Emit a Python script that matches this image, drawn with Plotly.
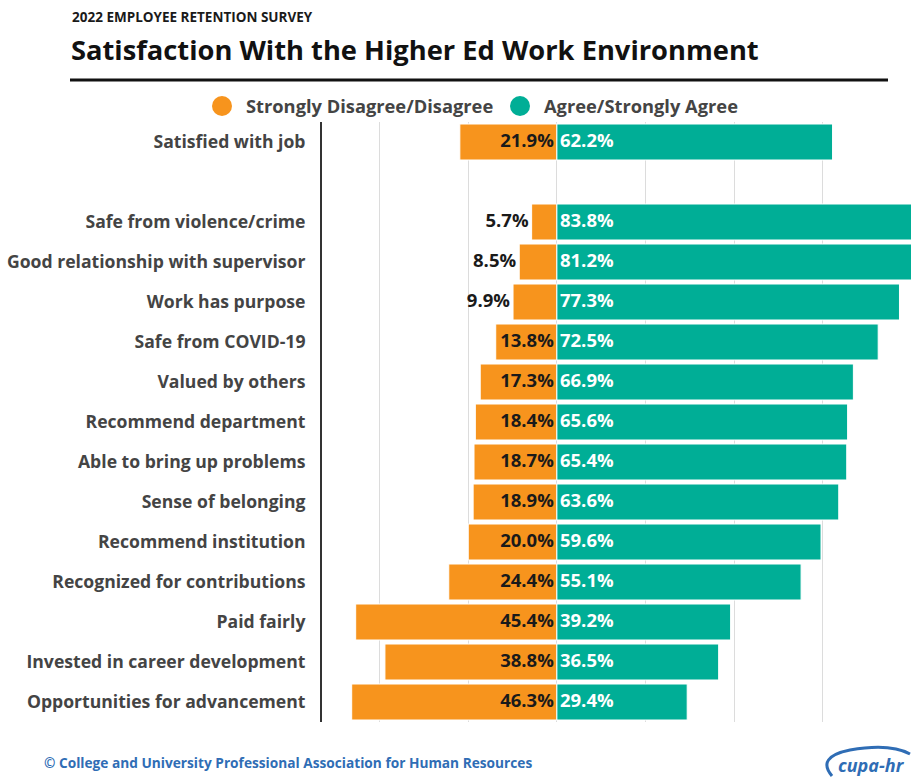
import plotly.graph_objects as go

# Survey items, top to bottom (" " is a spacer row)
items = [
    "Satisfied with job",
    " ",
    "Safe from violence/crime",
    "Good relationship with supervisor",
    "Work has purpose",
    "Safe from COVID-19",
    "Valued by others",
    "Recommend department",
    "Able to bring up problems",
    "Sense of belonging",
    "Recommend institution",
    "Recognized for contributions",
    "Paid fairly",
    "Invested in career development",
    "Opportunities for advancement",
]
disagree = [21.9, None, 5.7, 8.5, 9.9, 13.8, 17.3, 18.4, 18.7, 18.9, 20.0, 24.4, 45.4, 38.8, 46.3]
agree = [62.2, None, 83.8, 81.2, 77.3, 72.5, 66.9, 65.6, 65.4, 63.6, 59.6, 55.1, 39.2, 36.5, 29.4]

ORANGE = "#F7941D"
TEAL = "#00AE96"
FONT = "Open Sans"
VAL_SIZE = 18.5
SMALL_BAR = 12  # disagree bars narrower than this get their label outside

dis_x = [-v if v is not None else None for v in disagree]
dis_text = [f"{v:.1f}%\u2009" if v is not None else "" for v in disagree]
# label anchor: at the zero line for wide bars, at the bar end for narrow ones
dis_label_x = [None if v is None else (-v if v < SMALL_BAR else 0) for v in disagree]
agr_text = [f"\u2009{v:.1f}%" if v is not None else "" for v in agree]

fig = go.Figure()
fig.add_trace(go.Bar(
    y=items, x=dis_x, orientation="h", name="Strongly Disagree/Disagree",
    marker=dict(color=ORANGE, line=dict(color="white", width=1)),
    hoverinfo="skip",
))
fig.add_trace(go.Bar(
    y=items, x=agree, orientation="h", name="Agree/Strongly Agree",
    marker=dict(color=TEAL, line=dict(color="white", width=1)),
    hoverinfo="skip",
))
fig.add_trace(go.Scatter(
    y=items, x=dis_label_x, mode="text",
    text=dis_text, textposition="middle left",
    textfont=dict(family=FONT, size=VAL_SIZE, color="#1a1a1a", weight="bold"),
    cliponaxis=False, hoverinfo="skip", showlegend=False,
))
fig.add_trace(go.Scatter(
    y=items, x=[0 if v is not None else None for v in agree], mode="text",
    text=agr_text, textposition="middle right",
    textfont=dict(family=FONT, size=VAL_SIZE, color="white", weight="bold"),
    cliponaxis=False, hoverinfo="skip", showlegend=False,
))

fig.update_layout(
    width=911, height=778,
    margin=dict(l=322, r=0, t=122, b=56),
    paper_bgcolor="white", plot_bgcolor="white",
    barmode="relative", bargap=0.1,
    showlegend=False,
    xaxis=dict(
        range=[-53.0, 79.9], tick0=0, dtick=20,
        showgrid=True, gridcolor="#dcdcdc", gridwidth=1,
        zeroline=False, showticklabels=False, showline=False, fixedrange=True,
    ),
    yaxis=dict(
        categoryorder="array", categoryarray=items,
        range=[14.5, -0.5],
        showline=True, linecolor="#333333", linewidth=2, mirror=False,
        ticks="outside", ticklen=11, tickcolor="rgba(0,0,0,0)",
        tickfont=dict(family=FONT, size=17.6, color="#444444", weight="bold"),
        showgrid=False, zeroline=False,
    ),
)

PW, PH = 589, 600


def px_x(x):
    return (x - 322) / PW


def px_y(y):
    return 1 - (y - 122) / PH


# Header
fig.add_annotation(text="2022 EMPLOYEE RETENTION SURVEY", xref="paper", yref="paper",
                   x=px_x(70), y=px_y(17), xanchor="left", yanchor="middle",
                   showarrow=False, font=dict(family=FONT, size=13.5, color="#1a1a1a", weight="bold"))
fig.add_annotation(text="Satisfaction With the Higher Ed Work Environment", xref="paper", yref="paper",
                   x=px_x(69), y=px_y(50), xanchor="left", yanchor="middle",
                   showarrow=False, font=dict(family=FONT, size=27.3, color="#111111", weight="bold"))
fig.add_shape(type="line", xref="paper", yref="paper",
              x0=px_x(70), x1=px_x(888), y0=px_y(80), y1=px_y(80),
              line=dict(color="#111111", width=3))

# Legend
legend_items = [("Strongly Disagree/Disagree", ORANGE, 222), ("Agree/Strongly Agree", TEAL, 520)]
for label, color, cx in legend_items:
    fig.add_shape(type="circle", xref="paper", yref="paper",
                  x0=px_x(cx - 10), x1=px_x(cx + 10),
                  y0=px_y(116), y1=px_y(96),
                  fillcolor=color, line=dict(width=0))
    fig.add_annotation(text=label, xref="paper", yref="paper",
                       x=px_x(cx + 22), y=px_y(105), xanchor="left", yanchor="middle",
                       showarrow=False, font=dict(family=FONT, size=18.3, color="#444444", weight="bold"))

# Footer
fig.add_annotation(text="© College and University Professional Association for Human Resources",
                   xref="paper", yref="paper", x=px_x(42), y=px_y(762),
                   xanchor="left", yanchor="middle", showarrow=False,
                   font=dict(family=FONT, size=13.7, color="#2F6DB5", weight="bold"))
fig.add_annotation(text="<i>cupa-hr</i>", xref="paper", yref="paper",
                   x=px_x(907), y=px_y(765), xanchor="right", yanchor="middle",
                   showarrow=False, font=dict(family=FONT, size=18, color="#2F6DB5", weight="bold"))
fig.add_shape(type="path", xref="paper", yref="paper",
              path=(f"M {px_x(832)} {px_y(776)} Q {px_x(816)} {px_y(757)} {px_x(850)} {px_y(750)} "
                    f"Q {px_x(890)} {px_y(743)} {px_x(910)} {px_y(754)}"),
              line=dict(color="#2F6DB5", width=3))

fig.write_html("out.html")
